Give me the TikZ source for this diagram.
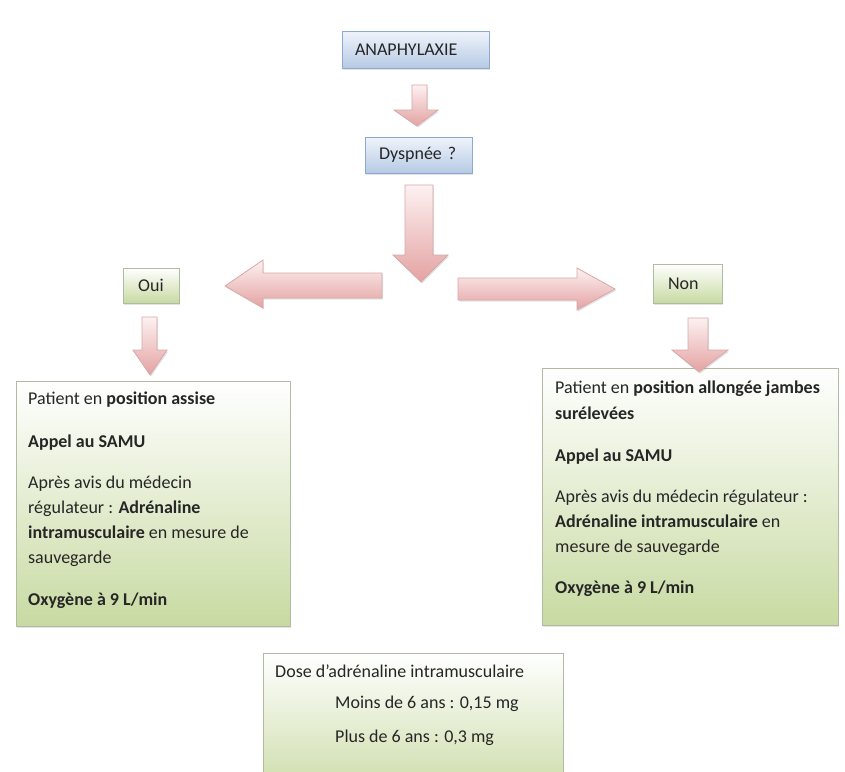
\documentclass[tikz,border=0pt]{standalone}
\usepackage{fontspec}
\setmainfont{Carlito}
\usetikzlibrary{shadows}
\definecolor{txt}{HTML}{262626}
\definecolor{bluetop}{HTML}{F0F4FB}
\definecolor{bluebot}{HTML}{B6CAE4}
\definecolor{blueedge}{HTML}{8FA8CF}
\definecolor{greentop}{HTML}{FFFFFF}
\definecolor{greenbot}{HTML}{C8DAA2}
\definecolor{greenedge}{HTML}{B3BAA3}
\definecolor{pinktop}{HTML}{FDF1F1}
\definecolor{pinkbot}{HTML}{E4A2A2}
\definecolor{pinkedge}{HTML}{D6A8A8}
\newcommand\bodyfnt{\fontsize{18}{25}\selectfont}
\begin{document}
\begin{tikzpicture}[x=1pt,y=-1pt,
  shad/.style={drop shadow={shadow xshift=1.2pt,shadow yshift=-1.5pt,opacity=0.22}},
  bluebox/.style={shad,draw=blueedge,line width=0.8pt,top color=bluetop,bottom color=bluebot,
    inner ysep=0pt,outer sep=0pt,anchor=north west,font=\bodyfnt,text=txt,align=left},
  smallgreen/.style={shad,draw=greenedge,line width=0.8pt,top color=greentop,bottom color=greenbot,
    inner ysep=0pt,outer sep=0pt,anchor=north west,font=\bodyfnt,text=txt},
  greenbox/.style={shad,draw=greenedge,line width=0.8pt,top color=greentop,bottom color=greenbot,
    inner sep=0pt,outer sep=0pt,anchor=north west},
  ln/.style={anchor=base west,inner sep=0pt,font=\bodyfnt,text=txt},
  blockarrow/.style={shad,draw=pinkedge,line width=0.8pt,top color=pinktop,bottom color=pinkbot}]
\useasboundingbox (0,0) rectangle (845,771);
\clip (0,0) rectangle (845,771);

% boxes
\node[bluebox,minimum width=147pt,minimum height=37pt,text width=121pt,inner xsep=13pt] (ana) at (342,31) {ANAPHYLAXIE};
\node[bluebox,minimum width=107pt,minimum height=36pt,text width=79pt,inner xsep=14pt] (dys) at (365,137) {Dyspnée ?};
\node[smallgreen,minimum width=56pt,minimum height=35pt,text width=28pt,inner xsep=14pt,align=center] (oui) at (123,268) {Oui};
\node[smallgreen,minimum width=69pt,minimum height=39pt,text width=39pt,inner xsep=15pt,align=left] (non) at (653,264) {Non};
\node[greenbox,minimum width=274pt,minimum height=245pt] (lbox) at (16,381) {};
\node[greenbox,minimum width=296pt,minimum height=257pt] (rbox) at (542,368) {};
\node[greenbox,minimum width=300pt,minimum height=150pt] (dbox) at (263,653) {};

% block arrows
\draw[blockarrow] (412,85) -- (427,85) -- (427,110) -- (438,110) -- (417,126) -- (394,110) -- (412,110) -- cycle;
\draw[blockarrow] (405,185) -- (433,185) -- (433,255) -- (448,255) -- (421,282) -- (393,255) -- (405,255) -- cycle;
\draw[blockarrow] (382,273) -- (382,298) -- (263,298) -- (263,308) -- (225,286) -- (263,260) -- (263,273) -- cycle;
\draw[blockarrow] (458,278) -- (458,300) -- (577,300) -- (577,310) -- (615,289) -- (577,268) -- (577,278) -- cycle;
\draw[blockarrow] (142,317) -- (157,317) -- (157,350) -- (167,350) -- (150,375) -- (133,350) -- (142,350) -- cycle;
\draw[blockarrow] (688,318) -- (708,318) -- (708,350) -- (728,350) -- (699,372) -- (672,350) -- (688,350) -- cycle;

% left box text
\node[ln] (l1) at (28,404) {Patient en \textbf{position assise}};
\node[ln] (l2) at (28,447) {\textbf{Appel au SAMU}};
\node[ln] (l3) at (28,488) {Après avis du médecin};
\node[ln] (l4) at (28,513) {régulateur : \textbf{Adrénaline}};
\node[ln] (l5) at (28,538) {\textbf{intramusculaire} en mesure de};
\node[ln] (l6) at (28,563) {sauvegarde};
\node[ln] (l7) at (28,605) {\textbf{Oxygène à 9 L/min}};

% right box text
\node[ln] (r1) at (555,393) {Patient en \textbf{position allongée jambes}};
\node[ln] (r2) at (555,419) {\textbf{surélevées}};
\node[ln] (r3) at (555,461) {\textbf{Appel au SAMU}};
\node[ln] (r4) at (555,502) {Après avis du médecin régulateur :};
\node[ln] (r5) at (555,527) {\textbf{Adrénaline intramusculaire} en};
\node[ln] (r6) at (555,552) {mesure de sauvegarde};
\node[ln] (r7) at (555,593) {\textbf{Oxygène à 9 L/min}};

% dose box text
\node[ln] (d1) at (275,677) {Dose d’adrénaline intramusculaire};
\node[ln] (d2) at (335,708) {Moins de 6 ans : 0,15 mg};
\node[ln] (d3) at (335,742) {Plus de 6 ans : 0,3 mg};
\end{tikzpicture}
\end{document}
